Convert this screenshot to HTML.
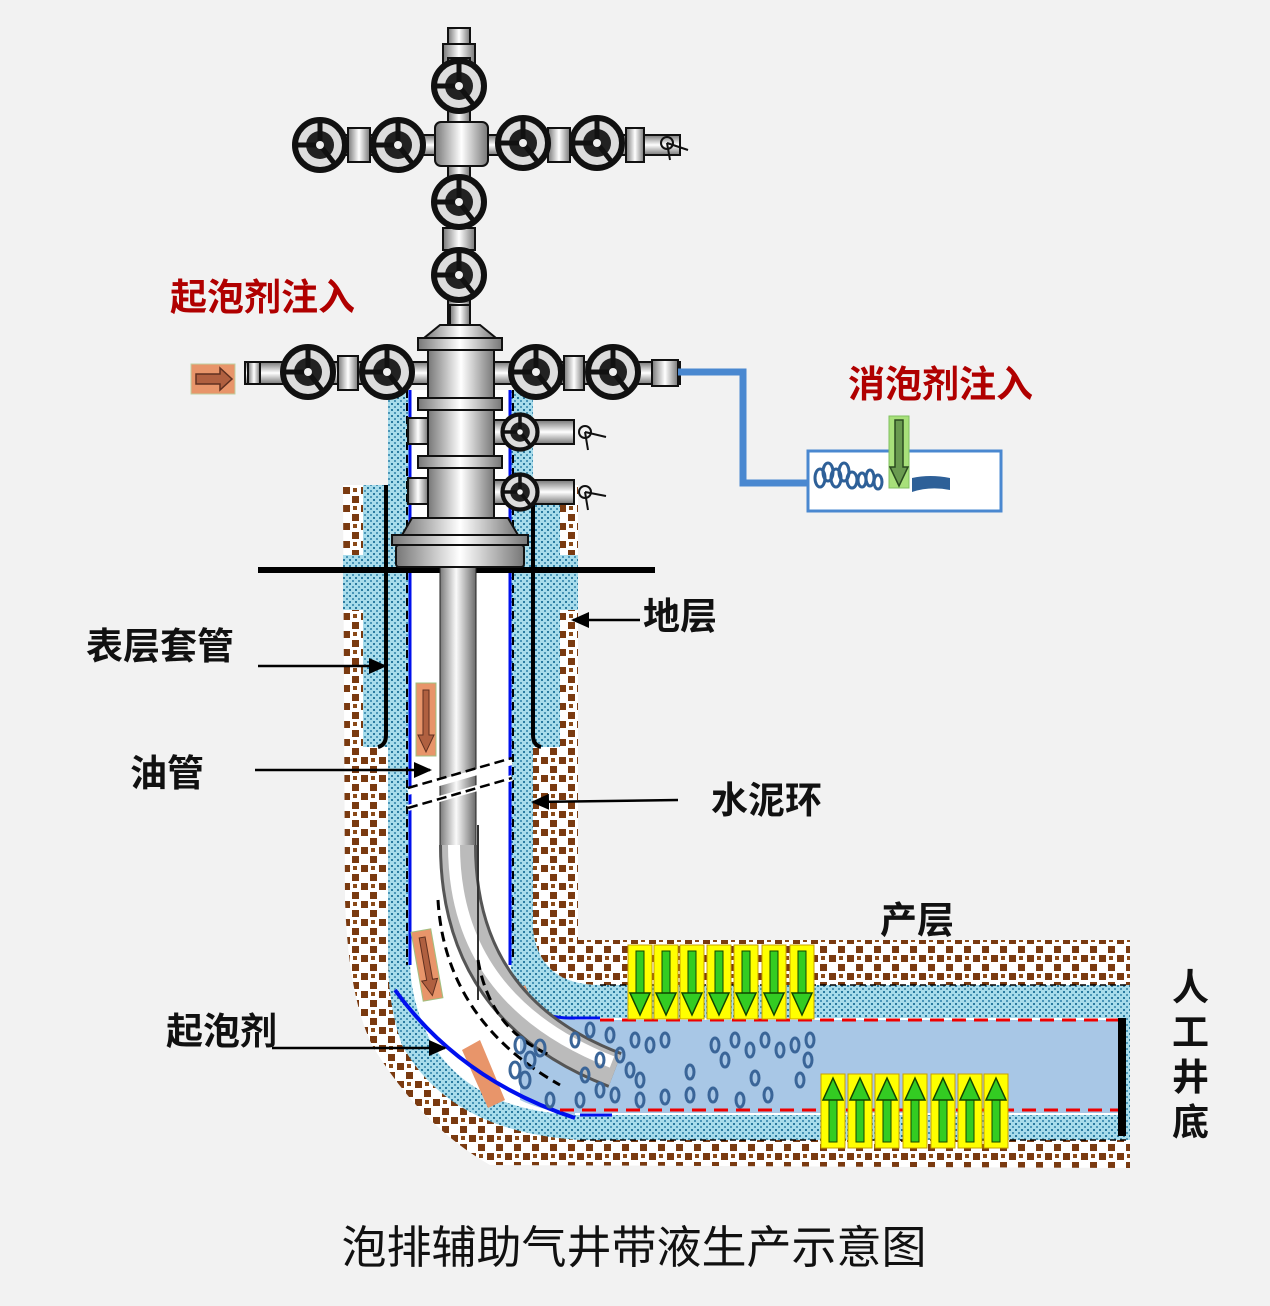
<!DOCTYPE html>
<html><head><meta charset="utf-8"><style>
html,body{margin:0;padding:0;background:#f2f2f2;}
svg{display:block;}
text{font-family:"Liberation Sans","Noto Sans CJK SC",sans-serif;font-weight:bold;}
</style></head><body>
<svg width="1270" height="1306" viewBox="0 0 1270 1306" xmlns="http://www.w3.org/2000/svg">
<defs>
<pattern id="rock" width="18" height="18" patternUnits="userSpaceOnUse">
<rect width="18" height="18" fill="#fff"/>
<rect x="1" y="1" width="7" height="7" fill="#7a3a10"/>
<rect x="10" y="10" width="7" height="7" fill="#7a3a10"/>
<rect x="11" y="2" width="4" height="4" fill="#8a4a18"/>
</pattern>
<pattern id="cem" width="6" height="6" patternUnits="userSpaceOnUse">
<rect width="6" height="6" fill="#a8dceb"/>
<rect x="1" y="1" width="2" height="2" fill="#2a7aa0"/>
<rect x="4" y="4" width="2" height="2" fill="#4a96b8"/>
</pattern>
<linearGradient id="tub" x1="0" x2="1" y1="0" y2="0">
<stop offset="0" stop-color="#7a7a7a"/><stop offset="0.45" stop-color="#fafafa"/><stop offset="1" stop-color="#6a6a6a"/>
</linearGradient>
<linearGradient id="gy" x1="0" x2="1"><stop offset="0" stop-color="#777"/><stop offset="0.5" stop-color="#fff"/><stop offset="1" stop-color="#777"/></linearGradient>
<linearGradient id="gv" x1="0" x2="0" y1="0" y2="1"><stop offset="0" stop-color="#777"/><stop offset="0.5" stop-color="#fff"/><stop offset="1" stop-color="#777"/></linearGradient>
<g id="valve">
<circle r="25" fill="#ddd" stroke="#111" stroke-width="6"/>
<circle r="14" fill="#222"/>
<path d="M0,-25 L0,0 M-25,0 L0,0 M0,0 L14,18" stroke="#111" stroke-width="5"/>
<circle r="4" fill="#eee"/>
</g>
<g id="ga"><rect x="-12" y="0" width="24" height="74" fill="#ffff00" stroke="#c8a000"/>
<rect x="-4" y="6" width="8" height="44" fill="#33cc22" stroke="#114400"/>
<path d="M-10,48 L10,48 L0,70 Z" fill="#33cc22" stroke="#114400" stroke-width="1.5"/></g>
<marker id="ar" markerWidth="18" markerHeight="16" refX="16" refY="8" orient="auto" markerUnits="userSpaceOnUse" viewBox="0 0 18 16"><path d="M0,0 L18,8 L0,16 Z" fill="#000"/></marker>
</defs>
<rect width="1270" height="1306" fill="#f2f2f2"/>

<path d="M343,485 L578,485 L578,940 L1130,940 L1130,1168 L490,1165 Q420,1125 372,1045 Q348,995 345,900 Z" fill="url(#rock)"/>
<rect x="363" y="485" width="27" height="262" fill="url(#cem)"/>
<rect x="533" y="485" width="27" height="262" fill="url(#cem)"/>
<rect x="343" y="555" width="20" height="55" fill="url(#cem)"/>
<rect x="560" y="555" width="18" height="55" fill="url(#cem)"/>
<path d="M388,390 L533,390 L533,930 Q540,985 600,985 L1130,985 L1130,1140 L580,1140 Q450,1132 402,1045 Q388,1005 388,960 Z" fill="url(#cem)"/>
<path d="M410,390 L510,390 L510,960 Q515,1018 575,1018 L1120,1018 L1120,1115 L575,1115 Q470,1110 430,1040 Q410,1000 410,960 Z" fill="#fff"/>
<rect x="560" y="1020" width="560" height="93" fill="#a8c7e6"/>
<path d="M520,1000 Q540,1018 575,1018 L575,1115 Q540,1110 520,1100 Z" fill="#a8c7e6"/>
<path d="M505,1000 L525,985 L545,1030 L530,1040 Z" fill="#e8956a"/>
<path d="M462,1050 L480,1040 L505,1100 L488,1108 Z" fill="#e8956a"/>
<line x1="410" y1="390" x2="410" y2="965" stroke="#0010ee" stroke-width="3"/>
<line x1="510" y1="390" x2="510" y2="965" stroke="#0010ee" stroke-width="3"/>
<path d="M515,978 Q525,1018 570,1018 L600,1018" fill="none" stroke="#0010ee" stroke-width="3"/>
<path d="M395,990 Q460,1080 575,1118" fill="none" stroke="#0010ee" stroke-width="4"/>
<line x1="580" y1="1115" x2="612" y2="1115" stroke="#0010ee" stroke-width="3"/>
<line x1="407" y1="390" x2="407" y2="965" stroke="#000" stroke-width="2" stroke-dasharray="8,5"/>
<line x1="513" y1="390" x2="513" y2="960" stroke="#000" stroke-width="2" stroke-dasharray="8,5"/>
<path d="M386,485 L386,735 Q386,745 378,747 M533,485 L533,735 Q533,745 541,747" fill="none" stroke="#000" stroke-width="4"/>
<line x1="600" y1="1020" x2="1125" y2="1020" stroke="#e00" stroke-width="3" stroke-dasharray="14,8"/>
<line x1="560" y1="1110" x2="1125" y2="1110" stroke="#e00" stroke-width="3" stroke-dasharray="14,8"/>
<line x1="600" y1="985" x2="1130" y2="985" stroke="#000" stroke-width="1.5" stroke-dasharray="6,4"/>
<line x1="580" y1="1140" x2="1130" y2="1140" stroke="#000" stroke-width="1.5" stroke-dasharray="6,4"/>
<rect x="1118" y="1018" width="8" height="118" fill="#000"/>
<rect x="258" y="567" width="397" height="6" fill="#000"/>
<rect x="440" y="560" width="36" height="290" fill="url(#tub)" stroke="#222" stroke-width="1"/>
<path d="M458,845 Q458,1010 615,1070" fill="none" stroke="#555" stroke-width="38"/>
<path d="M458,845 Q458,1010 615,1070" fill="none" stroke="#bbb" stroke-width="32"/>
<path d="M454,845 Q454,1000 612,1062" fill="none" stroke="#fff" stroke-width="12"/>
<path d="M478,825 L478,1000" stroke="#333" stroke-width="2"/>
<path d="M438,900 Q445,1020 560,1085" fill="none" stroke="#000" stroke-width="3" stroke-dasharray="10,6"/>
<path d="M478,960 Q490,1030 550,1055" fill="none" stroke="#000" stroke-width="3" stroke-dasharray="10,6"/>
<path d="M408,792 L512,762 M408,808 L512,778" stroke="#fff" stroke-width="6"/>
<path d="M408,788 L512,758 M408,808 L512,778" stroke="#000" stroke-width="2.5" stroke-dasharray="10,5"/>
<g fill="none" stroke="#3a6598" stroke-width="3">
<ellipse cx="520" cy="1045" rx="5" ry="8"/><ellipse cx="530" cy="1060" rx="5" ry="8"/><ellipse cx="515" cy="1070" rx="5" ry="8"/><ellipse cx="540" cy="1048" rx="5" ry="8"/><ellipse cx="525" cy="1080" rx="5" ry="8"/>
<ellipse cx="575" cy="1040" rx="4" ry="7"/><ellipse cx="590" cy="1030" rx="4" ry="7"/><ellipse cx="610" cy="1035" rx="4" ry="7"/><ellipse cx="620" cy="1055" rx="4" ry="7"/><ellipse cx="635" cy="1040" rx="4" ry="7"/>
<ellipse cx="650" cy="1045" rx="4" ry="7"/><ellipse cx="665" cy="1040" rx="4" ry="7"/><ellipse cx="600" cy="1060" rx="4" ry="7"/><ellipse cx="585" cy="1075" rx="4" ry="7"/><ellipse cx="600" cy="1090" rx="4" ry="7"/>
<ellipse cx="630" cy="1070" rx="4" ry="7"/><ellipse cx="690" cy="1072" rx="4" ry="7"/><ellipse cx="715" cy="1045" rx="4" ry="7"/><ellipse cx="735" cy="1040" rx="4" ry="7"/><ellipse cx="750" cy="1050" rx="4" ry="7"/>
<ellipse cx="765" cy="1040" rx="4" ry="7"/><ellipse cx="780" cy="1050" rx="4" ry="7"/><ellipse cx="795" cy="1045" rx="4" ry="7"/><ellipse cx="810" cy="1040" rx="4" ry="7"/><ellipse cx="725" cy="1060" rx="4" ry="7"/>
<ellipse cx="755" cy="1078" rx="4" ry="7"/><ellipse cx="800" cy="1080" rx="4" ry="7"/><ellipse cx="615" cy="1095" rx="4" ry="7"/><ellipse cx="640" cy="1100" rx="4" ry="7"/><ellipse cx="665" cy="1097" rx="4" ry="7"/>
<ellipse cx="690" cy="1095" rx="4" ry="7"/><ellipse cx="713" cy="1095" rx="4" ry="7"/><ellipse cx="740" cy="1100" rx="4" ry="7"/><ellipse cx="768" cy="1095" rx="4" ry="7"/><ellipse cx="580" cy="1100" rx="4" ry="7"/>
<ellipse cx="550" cy="1100" rx="4" ry="7"/><ellipse cx="640" cy="1080" rx="4" ry="7"/><ellipse cx="808" cy="1060" rx="4" ry="7"/>
</g>
<g><use href="#ga" x="640" y="945"/><use href="#ga" x="666" y="945"/><use href="#ga" x="692" y="945"/><use href="#ga" x="719" y="945"/><use href="#ga" x="746" y="945"/><use href="#ga" x="774" y="945"/><use href="#ga" x="802" y="945"/></g>
<g transform="translate(0,2220) scale(1,-1)"><use href="#ga" x="833" y="1072"/><use href="#ga" x="860" y="1072"/><use href="#ga" x="887" y="1072"/><use href="#ga" x="915" y="1072"/><use href="#ga" x="943" y="1072"/><use href="#ga" x="970" y="1072"/><use href="#ga" x="996" y="1072"/></g>
<g><rect x="416" y="683" width="20" height="73" fill="#e8956a" stroke="#a0c080"/><path d="M423,690 L429,690 L429,735 L434,735 L426,752 L418,735 L423,735 Z" fill="#b06040" stroke="#603020"/></g>
<g transform="rotate(-10 427 965)"><rect x="417" y="930" width="20" height="70" fill="#e8956a" stroke="#a0c080"/><path d="M424,937 L430,937 L430,980 L435,980 L427,996 L419,980 L424,980 Z" fill="#b06040" stroke="#603020"/></g>

<rect x="448" y="28" width="22" height="16" fill="url(#gy)" stroke="#111" stroke-width="2"/>
<rect x="443" y="44" width="32" height="24" fill="url(#gy)" stroke="#111" stroke-width="2"/>
<rect x="448" y="58" width="22" height="300" fill="url(#gy)" stroke="#111" stroke-width="2"/>
<rect x="300" y="135" width="380" height="20" fill="url(#gv)" stroke="#111" stroke-width="2"/>
<rect x="348" y="128" width="22" height="34" fill="url(#gy)" stroke="#111" stroke-width="2"/>
<rect x="548" y="128" width="22" height="34" fill="url(#gy)" stroke="#111" stroke-width="2"/>
<rect x="626" y="128" width="18" height="34" fill="url(#gy)" stroke="#111" stroke-width="2"/>
<rect x="435" y="122" width="53" height="44" rx="6" fill="url(#gy)" stroke="#111" stroke-width="2"/>
<rect x="443" y="228" width="32" height="22" fill="url(#gy)" stroke="#111" stroke-width="2"/>
<circle cx="667" cy="143" r="6" fill="none" stroke="#111" stroke-width="2"/><path d="M667,143 L688,150 M667,143 L670,160" stroke="#111" stroke-width="2"/>
<use href="#valve" x="459" y="86"/>
<use href="#valve" x="320" y="145"/><use href="#valve" x="398" y="145"/>
<use href="#valve" x="523" y="143"/><use href="#valve" x="597" y="143"/>
<use href="#valve" x="459" y="202"/><use href="#valve" x="459" y="275"/>
<rect x="245" y="362" width="435" height="22" fill="url(#gv)" stroke="#111" stroke-width="2"/>
<rect x="248" y="362" width="12" height="22" fill="url(#gy)" stroke="#111" stroke-width="2"/>
<rect x="338" y="356" width="20" height="34" fill="url(#gy)" stroke="#111" stroke-width="2"/>
<rect x="564" y="356" width="20" height="34" fill="url(#gy)" stroke="#111" stroke-width="2"/>
<rect x="652" y="360" width="26" height="26" fill="url(#gy)" stroke="#111" stroke-width="2"/>
<path d="M440,325 L480,325 L496,338 L424,338 Z" fill="url(#gy)" stroke="#111" stroke-width="2"/>
<rect x="450" y="305" width="20" height="20" fill="url(#gy)" stroke="#111" stroke-width="2"/>
<rect x="418" y="338" width="84" height="12" fill="url(#gy)" stroke="#111" stroke-width="2"/>
<rect x="428" y="350" width="66" height="50" fill="url(#gy)" stroke="#111" stroke-width="2"/>
<rect x="418" y="398" width="84" height="12" fill="url(#gy)" stroke="#111" stroke-width="2"/>
<rect x="428" y="410" width="66" height="48" fill="url(#gy)" stroke="#111" stroke-width="2"/>
<rect x="418" y="456" width="84" height="12" fill="url(#gy)" stroke="#111" stroke-width="2"/>
<rect x="428" y="468" width="66" height="50" fill="url(#gy)" stroke="#111" stroke-width="2"/>
<rect x="408" y="418" width="20" height="26" fill="url(#gy)" stroke="#111" stroke-width="2"/>
<rect x="408" y="478" width="20" height="26" fill="url(#gy)" stroke="#111" stroke-width="2"/>
<path d="M412,518 L508,518 L518,535 L402,535 Z" fill="url(#gy)" stroke="#111" stroke-width="2"/>
<rect x="392" y="535" width="136" height="10" fill="url(#gy)" stroke="#111" stroke-width="2"/>
<rect x="396" y="545" width="128" height="22" rx="3" fill="url(#gy)" stroke="#111" stroke-width="2"/>
<g><rect x="494" y="420" width="80" height="24" fill="url(#gv)" stroke="#111" stroke-width="2"/><use href="#valve" x="520" y="432" transform="translate(520 432) scale(0.7) translate(-520 -432)"/><circle cx="585" cy="432" r="6" fill="none" stroke="#111" stroke-width="2"/><path d="M585,432 L606,437 M585,432 L588,450" stroke="#111" stroke-width="2"/></g>
<g><rect x="494" y="480" width="80" height="24" fill="url(#gv)" stroke="#111" stroke-width="2"/><use href="#valve" x="520" y="492" transform="translate(520 492) scale(0.7) translate(-520 -492)"/><circle cx="585" cy="492" r="6" fill="none" stroke="#111" stroke-width="2"/><path d="M585,492 L606,496 M585,492 L588,510" stroke="#111" stroke-width="2"/></g>
<use href="#valve" x="308" y="372"/><use href="#valve" x="387" y="372"/>
<use href="#valve" x="536" y="372"/><use href="#valve" x="613" y="372"/>

<rect x="191" y="364" width="44" height="30" fill="#e8956a" stroke="#c0d0a0"/>
<path d="M196,374 L220,374 L220,368 L232,379 L220,390 L220,384 L196,384 Z" fill="#b06040" stroke="#603020" stroke-width="1.5"/>
<path d="M678,372 L743,372 L743,483 L808,483" fill="none" stroke="#4a88d0" stroke-width="7"/>
<rect x="808" y="451" width="193" height="60" fill="#fff" stroke="#4a88d0" stroke-width="3"/>
<g fill="none" stroke="#2e6098" stroke-width="3"><ellipse cx="820" cy="478" rx="5" ry="9"/><ellipse cx="828" cy="472" rx="5" ry="9"/><ellipse cx="836" cy="478" rx="5" ry="9"/><ellipse cx="844" cy="472" rx="5" ry="9"/><ellipse cx="852" cy="480" rx="5" ry="8"/><ellipse cx="862" cy="480" rx="4" ry="7"/><ellipse cx="870" cy="478" rx="4" ry="8"/><ellipse cx="878" cy="482" rx="4" ry="7"/></g>
<path d="M912,478 Q930,474 950,478 L950,490 Q930,486 912,492 Z" fill="#2e6098"/>
<rect x="889" y="416" width="20" height="72" fill="#a8e07a" stroke="#80c060"/>
<path d="M895,420 L903,420 L903,467 L908,467 L899,486 L890,467 L895,467 Z" fill="#6a9a50" stroke="#2a4a20" stroke-width="1.5"/>

<g stroke="#000" stroke-width="2.5" fill="none" marker-end="url(#ar)">
<line x1="258" y1="666" x2="385" y2="666"/>
<line x1="255" y1="770" x2="430" y2="770"/>
<line x1="640" y1="620" x2="573" y2="620"/>
<line x1="678" y1="800" x2="533" y2="802"/>
<line x1="272" y1="1048" x2="445" y2="1048"/>
</g>

<text x="170" y="310" font-size="37" fill="#b00000">起泡剂注入</text>
<text x="848" y="397" font-size="37" fill="#b00000">消泡剂注入</text>
<text x="86" y="659" font-size="37" fill="#111">表层套管</text>
<text x="130" y="786" font-size="37" fill="#111">油管</text>
<text x="643" y="629" font-size="37" fill="#111">地层</text>
<text x="711" y="813" font-size="37" fill="#111">水泥环</text>
<text x="880" y="933" font-size="37" fill="#111">产层</text>
<text x="166" y="1044" font-size="37" fill="#111">起泡剂</text>
<g font-size="37" fill="#111"><text x="1172" y="1000">人</text><text x="1172" y="1045">工</text><text x="1172" y="1090">井</text><text x="1172" y="1135">底</text></g>
<text x="634" y="1263" font-size="45" fill="#111" text-anchor="middle" style="font-weight:normal">泡排辅助气井带液生产示意图</text>
</svg>
</body></html>
